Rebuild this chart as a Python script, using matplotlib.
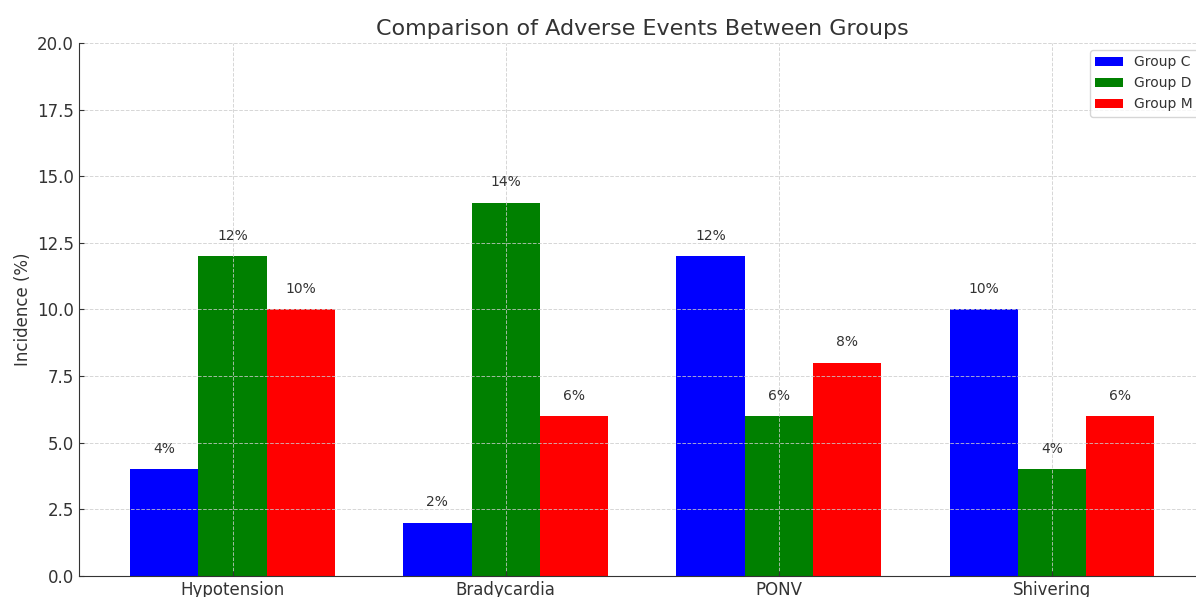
import numpy as np
import matplotlib
matplotlib.use('Agg')
import matplotlib.pyplot as plt

events = ['Hypotension', 'Bradycardia', 'PONV', 'Shivering']
group_c = [4, 2, 12, 10]
group_d = [12, 14, 6, 4]
group_m = [10, 6, 8, 6]
groups = ['Group C', 'Group D', 'Group M']
colors = ['blue', 'green', 'red']

text_color = '#333333'
plt.rcParams['text.color'] = text_color
plt.rcParams['axes.labelcolor'] = text_color
plt.rcParams['xtick.color'] = text_color
plt.rcParams['ytick.color'] = text_color

fig = plt.figure(figsize=(11.96, 5.97), dpi=100)
ax = fig.add_axes([0.066, 0.0352, 0.942, 0.893])

x = np.arange(len(events))
width = 0.25
for i, (vals, name, c) in enumerate(zip([group_c, group_d, group_m], groups, colors)):
    bars = ax.bar(x + (i - 1) * width, vals, width, label=name, color=c)
    for b, v in zip(bars, vals):
        ax.text(b.get_x() + b.get_width() / 2, v + 0.5, f'{v}%',
                ha='center', va='bottom', fontsize=10, color=text_color)

ax.set_title('Comparison of Adverse Events Between Groups', fontsize=16, color=text_color)
ax.set_ylabel('Incidence (%)', fontsize=12)
ax.set_xticks(x)
ax.set_xticklabels(events, fontsize=12)
ax.tick_params(axis='both', direction='in', labelsize=12)
ax.set_ylim(0, 20)
ax.set_yticks(np.arange(0, 20.1, 2.5))
ax.grid(True, linestyle='--', color='#cccccc', linewidth=0.7, alpha=0.8)
for s in ['top', 'right']:
    ax.spines[s].set_visible(False)
for s in ['left', 'bottom']:
    ax.spines[s].set_color(text_color)
ax.legend(loc='upper right', fontsize=10)

fig.savefig('out.png', dpi=100)
